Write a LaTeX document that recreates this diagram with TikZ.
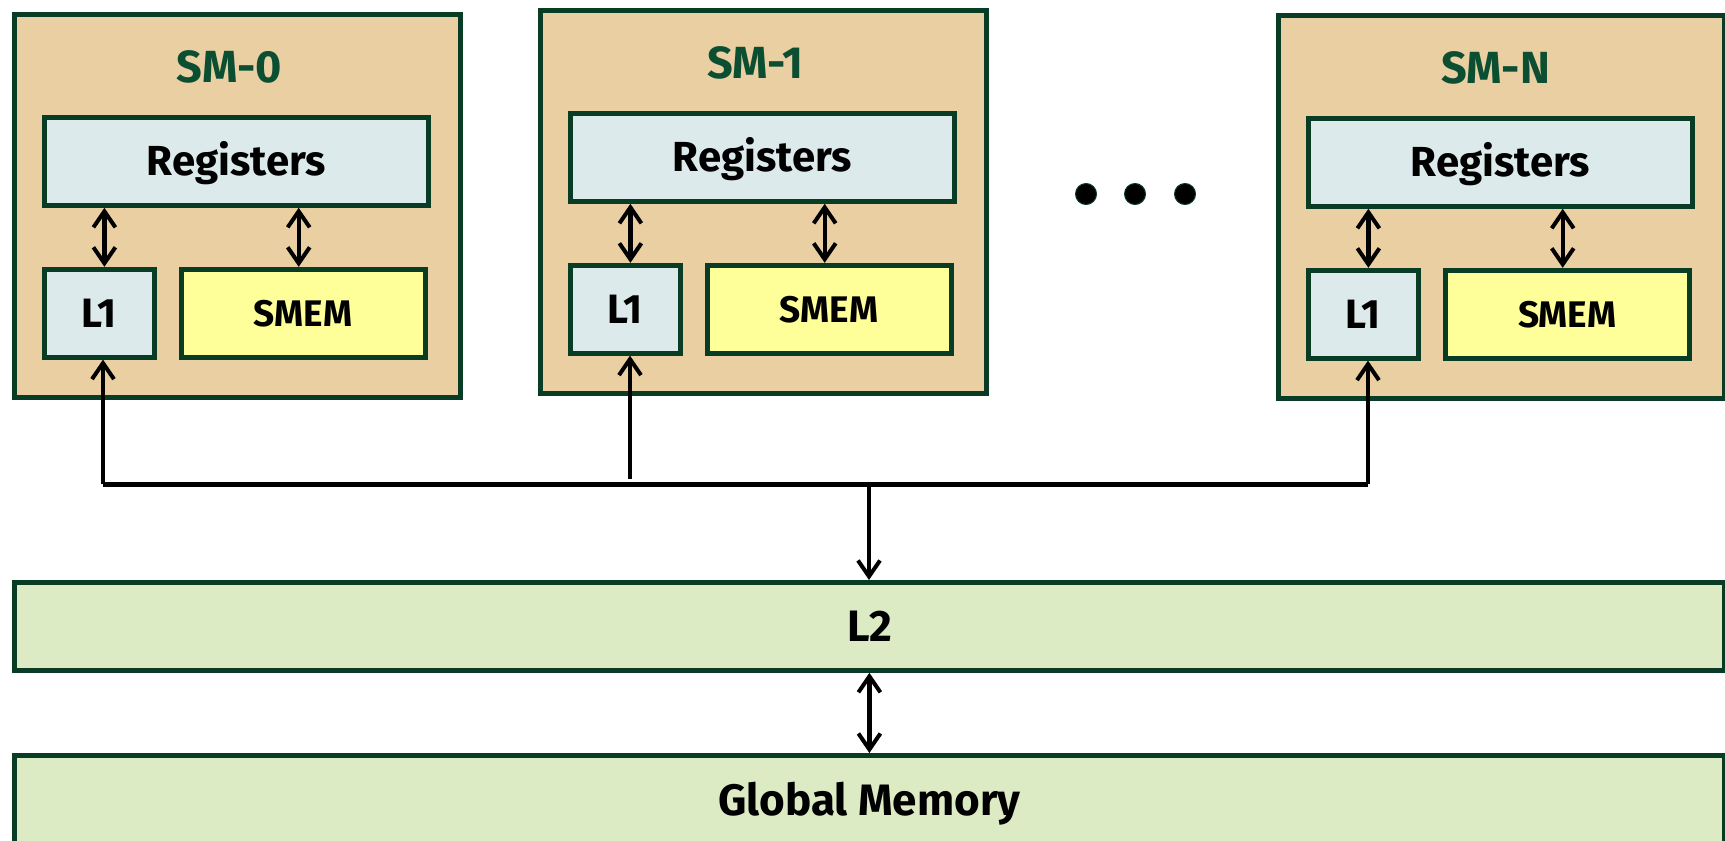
\documentclass[tikz,border=0pt]{standalone}
\usepackage{fontspec}
\setmainfont{Fira Sans}
\usepackage{xcolor}
\usetikzlibrary{positioning, arrows.meta}
\definecolor{smfill}{RGB}{233,207,161}
\definecolor{smdraw}{RGB}{8,60,36}
\definecolor{smtext}{RGB}{12,78,50}
\definecolor{regfill}{RGB}{221,234,235}
\definecolor{smemfill}{RGB}{255,255,153}
\definecolor{memfill}{RGB}{221,235,196}
\tikzset{
>={Straight Barb[length=8pt,width=11pt,line width=2pt]}, % open arrow heads
link/.style={draw, line width=2.2pt}, % all arrows
bus/.style={line width=2.5pt}, % the shared line to L2
sm/.style={draw=smdraw, line width=2.4pt, fill=smfill, anchor=north west, minimum width=223pt, minimum height=191.5pt, inner sep=0pt},
smname/.style={font=\fontsize{22.5}{27}\selectfont\bfseries, text=smtext, anchor=base},
box/.style={draw=smdraw, line width=2.4pt, inner sep=0pt, minimum height=44pt, text height=14.5pt, text depth=0pt, font=\fontsize{21}{25}\selectfont\bfseries},
regs/.style={box, fill=regfill, minimum width=192pt},
lone/.style={box, fill=regfill, minimum width=55pt, font=\fontsize{20.5}{24}\selectfont\bfseries, text height=14.1pt},
smem/.style={box, fill=smemfill, minimum width=122pt, font=\fontsize{18.5}{23}\selectfont\bfseries, text height=12.8pt},
mem/.style={box, fill=memfill, minimum width=855pt, anchor=north west, font=\fontsize{22}{26}\selectfont\bfseries, text height=15.2pt},
dot/.style={circle, fill=black, draw=smdraw, line width=0.5pt, minimum size=10.5pt, inner sep=0pt},
}
\begin{document}
\begin{tikzpicture}[x=0.5pt, y=-0.5pt] % one unit is one pixel, y runs down
    \useasboundingbox (0,0) rectangle (1725,841);

    % SM-0
    \node[sm] (sm0) at (12,12) {};
    \node[smname] (name0) at ([xshift=-4pt,yshift=-35pt]sm0.north) {SM-0};
    \node[regs, below right=51.5pt and 15pt of sm0.north west] (reg0) {Registers};
    \node[lone, below=29.5pt of reg0.south west, anchor=north west] (lone0) {L1};
    \node[smem, right=11pt of lone0] (smem0) {SMEM};

    % SM-1
    \node[sm] (sm1) at (538,8) {};
    \node[smname] (name1) at ([xshift=-4pt,yshift=-35pt]sm1.north) {SM-1};
    \node[regs, below right=51.5pt and 15pt of sm1.north west] (reg1) {Registers};
    \node[lone, below=29.5pt of reg1.south west, anchor=north west] (lone1) {L1};
    \node[smem, right=11pt of lone1] (smem1) {SMEM};

    % SM-N
    \node[sm] (smn) at (1276,13) {};
    \node[smname] (namen) at ([xshift=-3pt,yshift=-35pt]smn.north) {SM-N};
    \node[regs, below right=51.5pt and 15pt of smn.north west] (regn) {Registers};
    \node[lone, below=29.5pt of regn.south west, anchor=north west] (lonen) {L1};
    \node[smem, right=11pt of lonen] (smemn) {SMEM};

    % the dots between SM-1 and SM-N
    \node[dot] (dot1) at (1086,194) {};
    \node[dot] (dot2) at (1135,194) {};
    \node[dot] (dot3) at (1185,194) {};

    % memory below the SMs
    \node[mem] (l2) at (12,580) {L2};
    \node[mem, minimum height=45pt] (gm) at (12,753) {Global Memory};

    \coordinate (bus0) at (103,484);
    \coordinate (bus1) at (630,479);
    \coordinate (busn) at (1368,484);
    \coordinate (bustap) at (869,484);

    \draw ([xshift=2.5pt]lone0.north) edge[link, <->] ([xshift=2.5pt]lone0.north |- reg0.south)
          ([xshift=-2.25pt]smem0.north) edge[link, <->] ([xshift=-2.25pt]smem0.north |- reg0.south)
          ([xshift=2.5pt]lone1.north) edge[link, <->] ([xshift=2.5pt]lone1.north |- reg1.south)
          ([xshift=-2.25pt]smem1.north) edge[link, <->] ([xshift=-2.25pt]smem1.north |- reg1.south)
          ([xshift=2.5pt]lonen.north) edge[link, <->] ([xshift=2.5pt]lonen.north |- regn.south)
          ([xshift=-2.25pt]smemn.north) edge[link, <->] ([xshift=-2.25pt]smemn.north |- regn.south);

    \draw[bus] (bus0) -- (busn);
    \draw (bus0) edge[link, ->] (bus0 |- lone0.south)
          (bus1) edge[link, ->] (bus1 |- lone1.south)
          (busn) edge[link, ->] (busn |- lonen.south)
          (bustap) edge[link, ->] (bustap |- l2.north)
          (l2) edge[link, <->] (gm);

\end{tikzpicture}
\end{document}
